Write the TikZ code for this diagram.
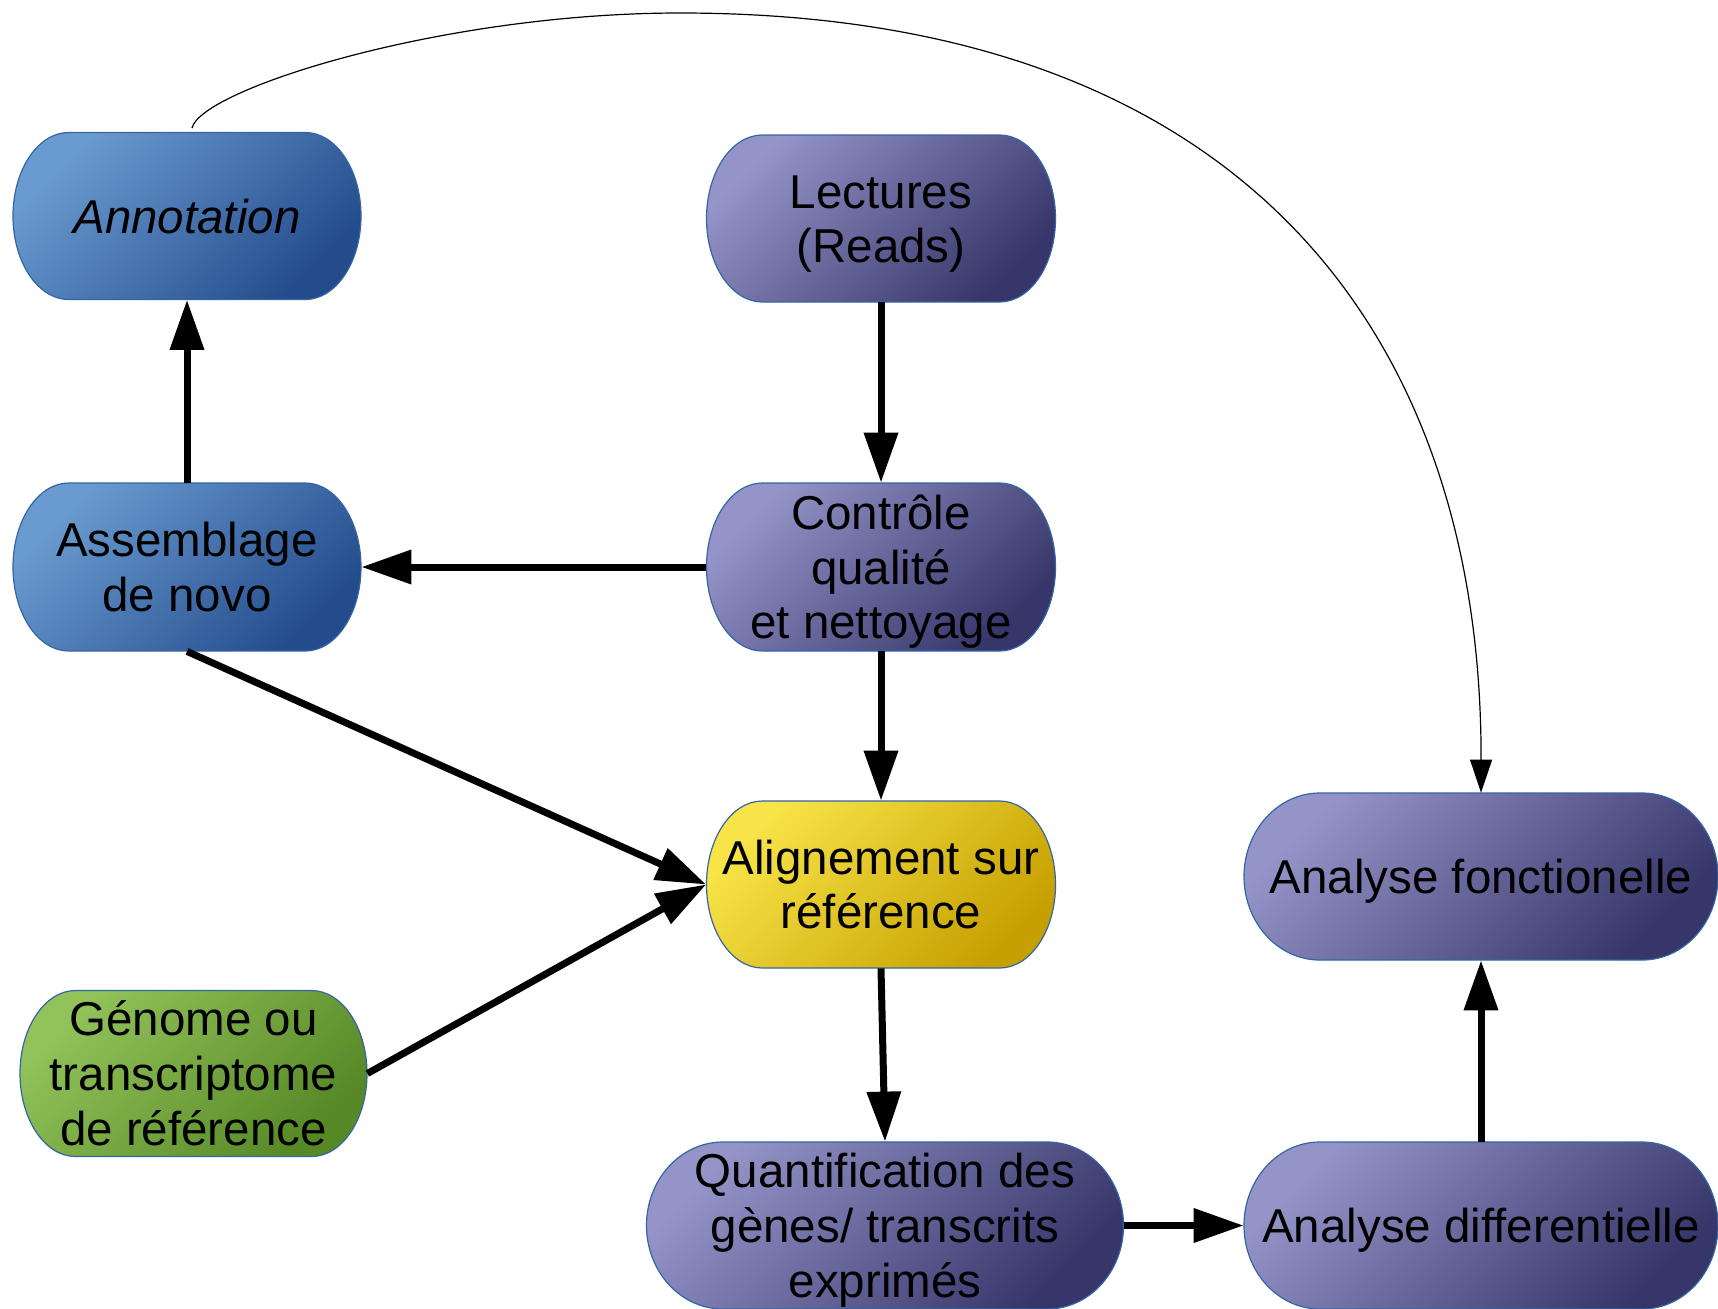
\documentclass[tikz,border=0pt]{standalone}
\usepackage{fontspec}
\setmainfont{Liberation Sans}
\usetikzlibrary{arrows.meta}

\definecolor{rimblue}{HTML}{3465A4}
\definecolor{blueA}{HTML}{6A9BD0}
\definecolor{blueB}{HTML}{244C8C}
\definecolor{violetA}{HTML}{9494C8}
\definecolor{violetB}{HTML}{36366A}
\definecolor{yellowA}{HTML}{F8E448}
\definecolor{yellowB}{HTML}{C6A000}
\definecolor{greenA}{HTML}{92C25A}
\definecolor{greenB}{HTML}{568826}

% line box with the ascent/descent of the text font
\newcommand\ascstrut{\rule[-5.2pt]{0pt}{27.4pt}}

% terminator outline: straight top and bottom, quarter-ellipse ends
% #1 cx, #2 cy, #3 width, #4 height, #5 style
\newcommand\pill[5]{%
  \pgfmathsetmacro\pillrx{0.16*#3}%
  \pgfmathsetmacro\pillry{#4/2}%
  \pgfmathsetmacro\pillxa{#1-#3/2+\pillrx}%
  \pgfmathsetmacro\pillxb{#1+#3/2-\pillrx}%
  \pgfmathsetmacro\pillya{#2-#4/2}%
  \pgfmathsetmacro\pillyb{#2+#4/2}%
  \path[#5] (\pillxa,\pillya) -- (\pillxb,\pillya)
    arc[start angle=-90,end angle=90,x radius=\pillrx,y radius=\pillry]
    -- (\pillxa,\pillyb)
    arc[start angle=90,end angle=270,x radius=\pillrx,y radius=\pillry]
    -- cycle;
}
% a stage: shaded terminator plus a named text node of the same size
% #1 name, #2 cx, #3 cy, #4 width, #5 height, #6 fill style, #7 text
\newcommand\stage[7]{%
  \pill{#2}{#3}{#4}{#5}{#6}
  \node[stagetext, minimum width={#4*0.5pt}, minimum height={#5*0.5pt}] (#1) at (#2,#3) {\ascstrut#7\ascstrut};
}

\tikzset{
  pillbase/.style={draw=rimblue, line width=0.6pt},
  bluepill/.style={pillbase, top color=blueA, bottom color=blueB, shading angle=45},
  violetpill/.style={pillbase, top color=violetA, bottom color=violetB, shading angle=45},
  yellowpill/.style={pillbase, top color=yellowA, bottom color=yellowB, shading angle=45},
  greenpill/.style={pillbase, top color=greenA, bottom color=greenB, shading angle=45},
  stagetext/.style={draw=none, inner sep=0pt, align=center,
    font=\fontsize{23.75pt}{27.4pt}\selectfont},
  bigarrow/.style={draw=black, line width=3.5pt,
    -{Triangle[length=25pt,width=16.5pt]}},
  thinarrow/.style={draw=black, line width=0.6pt,
    -{Triangle[length=16.5pt,width=11pt]}},
}

\begin{document}
\begin{tikzpicture}[x=0.5pt, y=-0.5pt]
  \useasboundingbox (0,0) rectangle (1718,1308);
  \fill[white] (0,0) rectangle (1718,1308);

  \stage{annot}{187}{216}{348}{167}{bluepill}{\itshape Annotation}
  \stage{lect}{881}{218.5}{349}{167}{violetpill}{Lectures\\(Reads)}
  \stage{ctrl}{881}{567}{349}{168}{violetpill}{Contrôle\\qualité\\et nettoyage}
  \stage{assem}{187}{567}{348}{168}{bluepill}{Assemblage\\de novo}
  \stage{align}{881}{884.5}{349}{167}{yellowpill}{Alignement sur\\référence}
  \stage{genome}{193.5}{1073.5}{347}{166}{greenpill}{Génome ou\\transcriptome\\de référence}
  \stage{quant}{885}{1225.5}{477}{167}{violetpill}{Quantification des\\gènes/ transcrits\\exprimés}
  \stage{diff}{1481}{1225.5}{474}{167}{violetpill}{Analyse differentielle}
  \stage{fonct}{1481}{876.5}{474}{167}{violetpill}{Analyse fonctionelle}

  % main flow
  \draw[bigarrow] (lect.south) -- (ctrl.north);
  \draw[bigarrow] (ctrl.west) -- (assem.east);
  \draw[bigarrow] (ctrl.south) -- (align.north);
  \draw[bigarrow] (assem.north) -- (annot.south);
  \draw[bigarrow] (assem.south) -- (align.west);
  \draw[bigarrow] (genome.east) -- (align.west);
  \draw[bigarrow] (align.south) -- (quant.north);
  \draw[bigarrow] (quant.east) -- (diff.west);
  \draw[bigarrow] (diff.north) -- (fonct.south);

  % annotation feeds the functional analysis
  \draw[thinarrow] ([xshift=2.5pt,yshift=2pt]annot.north)
    .. controls (200,90) and (440,13) .. (680,13)
    .. controls (1257,13) and (1482,348) .. (fonct.north);
\end{tikzpicture}
\end{document}
